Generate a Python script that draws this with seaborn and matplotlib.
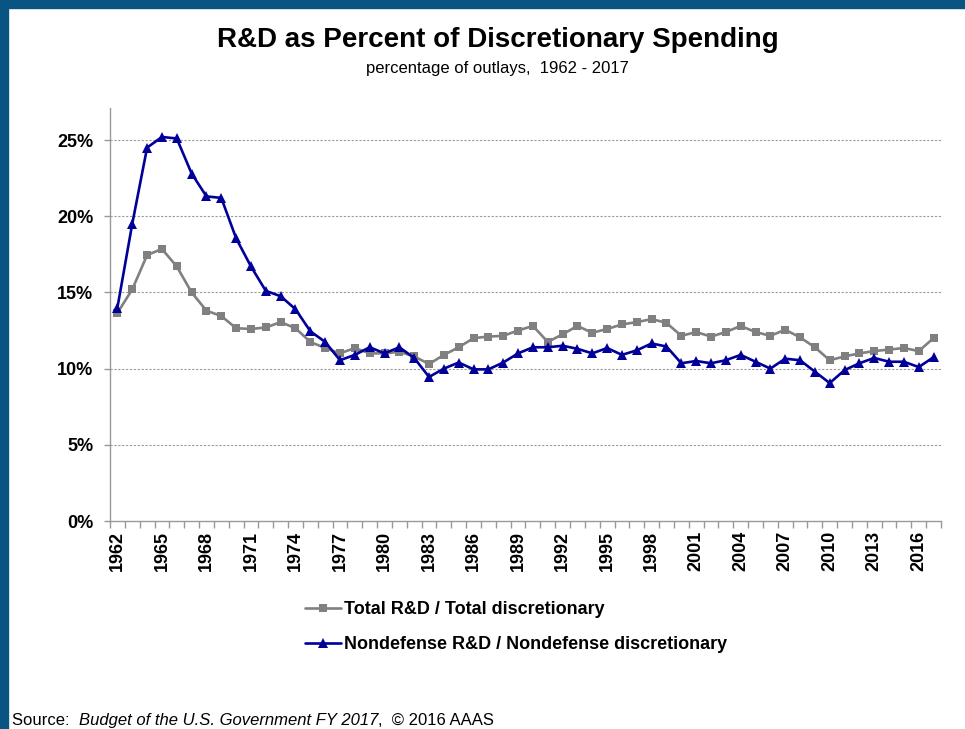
import numpy as np
import pandas as pd
import seaborn as sns
import matplotlib.pyplot as plt
from matplotlib.patches import Rectangle
from matplotlib.ticker import PercentFormatter, MultipleLocator, FixedLocator

# Dados (percentual das despesas)
anos = list(range(1962, 2018))
total_rd = [13.65, 15.2, 17.45, 17.85, 16.7, 15.0, 13.8, 13.45, 12.65, 12.6,
            12.7, 13.05, 12.65, 11.75, 11.35, 11.0, 11.35, 11.0, 11.0, 11.1,
            10.8, 10.3, 10.9, 11.4, 12.0, 12.1, 12.15, 12.5, 12.8, 11.75,
            12.25, 12.8, 12.35, 12.6, 12.9, 13.05, 13.25, 13.0, 12.15, 12.4,
            12.1, 12.4, 12.8, 12.4, 12.15, 12.55, 12.05, 11.4, 10.55, 10.8,
            11.0, 11.15, 11.25, 11.35, 11.15, 12.0]
nondefense_rd = [14.0, 19.5, 24.5, 25.2, 25.1, 22.8, 21.3, 21.2, 18.55, 16.7,
                 15.1, 14.75, 13.9, 12.45, 11.75, 10.55, 10.9, 11.4, 11.0, 11.4,
                 10.7, 9.45, 10.0, 10.4, 9.95, 9.95, 10.4, 11.0, 11.4, 11.4,
                 11.5, 11.3, 11.0, 11.35, 10.9, 11.2, 11.65, 11.45, 10.35, 10.5,
                 10.35, 10.55, 10.9, 10.45, 10.0, 10.65, 10.55, 9.8, 9.05, 9.9,
                 10.35, 10.7, 10.45, 10.45, 10.1, 10.75]
rotulos_series = ["Total R&D / Total discretionary",
                  "Nondefense R&D / Nondefense discretionary"]
anos_rotulo = list(range(1962, 2017, 3))

df = pd.DataFrame({"ano": anos, "total": total_rd, "nondef": nondefense_rd})

sns.set_style("white")
plt.rcParams['font.family'] = ['Liberation Sans', 'DejaVu Sans']
plt.rcParams['text.color'] = 'black'

fig = plt.figure(figsize = (9.65, 7.29), dpi = 100)
ax = fig.add_axes([110 / 965, 1 - 521 / 729, (941 - 110) / 965, (521 - 108) / 729])

cor_cinza = '#808080'
cor_azul = '#000099'

sns.lineplot(data = df, x = "ano", y = "total", ax = ax, color = cor_cinza, linewidth = 1.9,
             marker = 's', markersize = 6, markeredgewidth = 0, label = rotulos_series[0], clip_on = False)
sns.lineplot(data = df, x = "ano", y = "nondef", ax = ax, color = cor_azul, linewidth = 1.9,
             marker = '^', markersize = 7.5, markeredgewidth = 0, label = rotulos_series[1], clip_on = False)

ax.set_xlim(1961.5, 2017.5)
ax.set_ylim(0, 27.1)
ax.set_xlabel('')
ax.set_ylabel('')

# Eixo y
ax.yaxis.set_major_locator(MultipleLocator(5))
ax.yaxis.set_major_formatter(PercentFormatter(xmax = 100, decimals = 0))
for y in [5, 10, 15, 20, 25]:
    ax.axhline(y, color = '#9a9a9a', linewidth = 0.8, linestyle = (0, (2, 1.5)), zorder = 0)

# Eixo x
ax.xaxis.set_major_locator(FixedLocator(anos_rotulo))
ax.xaxis.set_minor_locator(FixedLocator(np.arange(1961.5, 2018, 1)))
ax.tick_params(axis = 'x', which = 'major', length = 0, pad = 7, rotation = 90, labelsize = 13,
               labelcolor = 'black')
ax.tick_params(axis = 'x', which = 'minor', length = 5, width = 1, color = '#999999', direction = 'out', bottom = True)
ax.tick_params(axis = 'y', which = 'major', length = 4, width = 1, color = '#999999', direction = 'out', left = True,
               pad = 8, labelsize = 13, labelcolor = 'black')
for lbl in ax.get_xticklabels() + ax.get_yticklabels():
    lbl.set_fontweight('bold')

for lado in ['top', 'right']:
    ax.spines[lado].set_visible(False)
for lado in ['left', 'bottom']:
    ax.spines[lado].set_color('#999999')
    ax.spines[lado].set_linewidth(1)

# Legenda
ax.get_legend().remove()
h, l = ax.get_legend_handles_labels()
fig.legend(h, l, loc = 'upper left', bbox_to_anchor = (305 / 965, 1 - 601 / 729), frameon = False,
           borderpad = 0, borderaxespad = 0, handlelength = 2.0, handletextpad = 0.15,
           labelspacing = 1.0, prop = {'size': 13, 'weight': 'bold'}, labelcolor = 'black')

# Títulos
fig.text(498 / 965, 1 - 40 / 729, 'R&D as Percent of Discretionary Spending', ha = 'center', va = 'center',
         fontsize = 20, fontweight = 'bold')
fig.text(497 / 965, 1 - 68 / 729, 'percentage of outlays,  1962 - 2017', ha = 'center', va = 'center',
         fontsize = 12)

# Fonte
t1 = fig.text(12 / 965, 1 / 729, 'Source:  ', ha = 'left', va = 'bottom', fontsize = 12)
t2 = fig.add_artist(plt.Annotation('Budget of the U.S. Government FY 2017', xy = (1, 0), xycoords = t1,
                                   va = 'bottom', ha = 'left', fontsize = 12, fontstyle = 'italic'))
fig.add_artist(plt.Annotation(',  \u00a9 2016 AAAS', xy = (1, 0), xycoords = t2,
                              va = 'bottom', ha = 'left', fontsize = 12))

# Moldura azul
fig.add_artist(Rectangle((0, 0), 8 / 965, 1, transform = fig.transFigure, color = '#0a5483', zorder = 10))
fig.add_artist(Rectangle((0, 1 - 8 / 729), 1, 8 / 729, transform = fig.transFigure, color = '#0a5483', zorder = 10))

fig.savefig('out.png', dpi = 100)
